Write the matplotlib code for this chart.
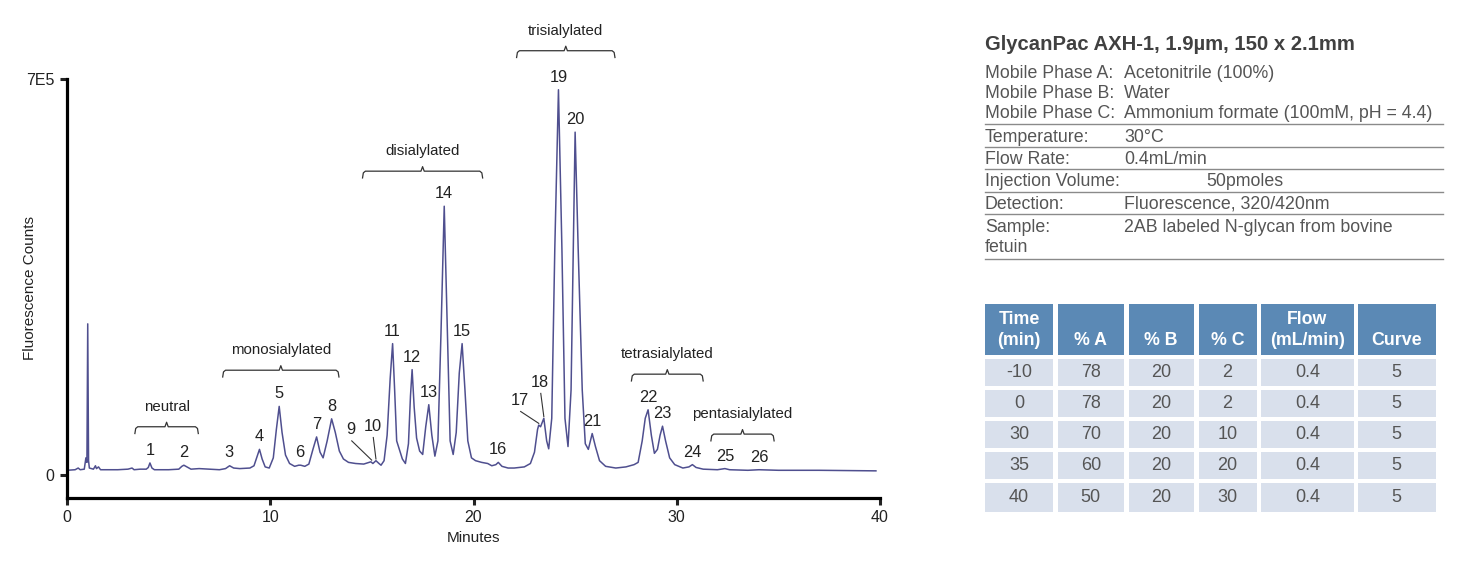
import matplotlib.pyplot as plt
from matplotlib.patches import Rectangle

# ---- chromatogram trace (minutes, counts x 1000) ----
time_min = [0.0, 0.4, 0.55, 0.65, 0.85, 0.93, 0.98, 1.02, 1.06, 1.1, 1.3, 1.4, 1.45, 1.55, 1.65,
            2.0, 2.5, 3.0, 3.2, 3.3, 3.6, 3.9, 4.0, 4.08, 4.18, 4.3, 5.0, 5.5, 5.65, 5.75, 5.9,
            6.1, 6.5, 7.0, 7.5, 7.8, 8.0, 8.2, 8.5, 9.0, 9.2, 9.35, 9.47, 9.6, 9.75, 9.95,
            10.15, 10.3, 10.44, 10.58, 10.75, 10.95, 11.2, 11.4, 11.5, 11.7, 11.9, 12.1, 12.28,
            12.45, 12.6, 12.8, 13.02, 13.2, 13.4, 13.6, 13.85, 14.2, 14.6, 14.95, 15.05, 15.2,
            15.35, 15.45, 15.6, 15.75, 15.9, 16.02, 16.12, 16.22, 16.35, 16.5, 16.65, 16.8, 16.9,
            16.98, 17.08, 17.2, 17.35, 17.5, 17.65, 17.8, 17.95, 18.1, 18.25, 18.4, 18.56, 18.72,
            18.85, 19.0, 19.15, 19.3, 19.44, 19.58, 19.72, 19.9, 20.1, 20.4, 20.7, 20.9, 21.1,
            21.22, 21.4, 21.7, 22.0, 22.5, 22.8, 23.0, 23.15, 23.21, 23.3, 23.46, 23.6, 23.7,
            23.85, 24.0, 24.18, 24.35, 24.5, 24.65, 24.8, 25.0, 25.15, 25.35, 25.5, 25.65, 25.84,
            26.0, 26.2, 26.5, 27.0, 27.5, 27.9, 28.1, 28.3, 28.45, 28.59, 28.75, 28.9, 29.05,
            29.18, 29.3, 29.45, 29.65, 29.9, 30.3, 30.6, 30.77, 30.95, 31.3, 32.0, 32.37, 32.6,
            33.5, 34.05, 35.0, 37.0, 39.8]
signal_k = [8, 9, 12, 9, 10, 30, 22, 267, 25, 12, 10, 16, 11, 14, 9,
            9, 9, 10, 12, 9, 10, 10, 13, 21, 12, 9, 9, 10, 15, 17, 14,
            10, 11, 10, 9, 11, 16, 12, 11, 12, 16, 32, 45, 28, 14, 12,
            30, 80, 121, 75, 35, 20, 15, 17, 17, 15, 19, 45, 67,
            40, 30, 60, 99, 75, 42, 28, 22, 20, 19, 23, 20, 25,
            20, 17, 25, 70, 170, 232, 150, 60, 45, 28, 20, 55, 140,
            186, 120, 65, 42, 36, 85, 124, 70, 33, 60, 250, 475, 250,
            60, 36, 75, 180, 232, 150, 60, 30, 25, 22, 20, 16, 18,
            22, 15, 12, 12, 14, 20, 40, 80, 88, 85, 100, 60, 46,
            100, 400, 681, 400, 100, 50, 150, 606, 400, 150, 55, 45, 73,
            50, 25, 15, 12, 14, 18, 22, 60, 100, 115, 70, 38, 45,
            70, 86, 60, 30, 18, 12, 14, 18, 13, 10, 9, 11, 9,
            8, 9, 8, 8, 7]

# numbered peaks (retention time in minutes, apex in counts x 1000)
peak_numbers = list(range(1, 27))
peak_times = [4.08, 5.74, 7.98, 9.47, 10.44, 11.46, 12.28, 13.02, 14.99, 15.2, 16.02, 16.98, 17.8,
              18.56, 19.44, 21.22, 23.21, 23.46, 24.18, 25.0, 25.84, 28.59, 29.3, 30.77, 32.4, 34.06]
peak_heights = [21, 18, 17, 45, 121, 17, 67, 99, 23, 25, 232, 186, 124,
                475, 232, 22, 88, 100, 681, 606, 73, 115, 86, 18, 11, 9]

# glycan groups (start, end in minutes; bracket level in counts x 1000)
group_names = ["neutral", "monosialylated", "disialylated", "trisialylated",
               "tetrasialylated", "pentasialylated"]
group_start = [3.34, 7.66, 14.54, 22.12, 27.77, 31.68]
group_end = [6.46, 13.38, 20.45, 26.96, 31.3, 34.79]
group_level = [85, 185, 537, 750, 178, 72]

# ---- method panel ----
column_title = "GlycanPac AXH-1, 1.9µm, 150 x 2.1mm"
mobile_phases = [("Mobile Phase A:", "Acetonitrile (100%)"),
                 ("Mobile Phase B:", "Water"),
                 ("Mobile Phase C:", "Ammonium formate (100mM, pH = 4.4)")]
conditions = [("Temperature:", "30°C"),
              ("Flow Rate:", "0.4mL/min"),
              ("Injection Volume:", "50pmoles"),
              ("Detection:", "Fluorescence, 320/420nm"),
              ("Sample:", "2AB labeled N-glycan from bovine\nfetuin")]

table_header = ["Time\n(min)", "% A", "% B", "% C", "Flow\n(mL/min)", "Curve"]
time_steps = ["-10", "0", "30", "35", "40"]
pct_a = [78, 78, 70, 60, 50]
pct_b = [20, 20, 20, 20, 20]
pct_c = [2, 2, 10, 20, 30]
flow = [0.4, 0.4, 0.4, 0.4, 0.4]
curve = [5, 5, 5, 5, 5]

# ================================
W, H = 1465, 565
plt.rcParams['font.family'] = ['Liberation Sans', 'DejaVu Sans']
fig = plt.figure(figsize=(W / 100, H / 100), dpi=100)

def fx(px):
    return px / W

def fy(py):
    return 1 - py / H

ax = fig.add_axes([fx(67), fy(498), fx(880) - fx(67), fy(79) - fy(498)])

trace_color = "#4f4f8f"
ax.plot(time_min, [s * 1000 for s in signal_k], color=trace_color, lw=1.1)

ax.set_xlim(0, 40)
ax.set_ylim(-41000, 700000)
for side in ["top", "right"]:
    ax.spines[side].set_visible(False)
for side in ["left", "bottom"]:
    ax.spines[side].set_linewidth(2.3)
    ax.spines[side].set_capstyle("projecting")
ax.set_xticks([0, 10, 20, 30, 40])
ax.set_yticks([0, 700000])
ax.set_yticklabels(["0", "7E5"])
ax.tick_params(length=5, width=2.2, labelsize=11.5, colors="#222222", pad=4)
ax.set_xlabel("Minutes", fontsize=11, color="#222222", labelpad=4)
ax.set_ylabel("Fluorescence Counts", fontsize=11, color="#222222")
ax.yaxis.set_label_coords(-0.037, 0.5)

chart_fs = 10.8

# peak numbers
label_shift = {9: (-1.02, 57), 10: (-0.17, 61), 17: (-0.93, 44), 18: (-0.19, 64)}
for n, t, h in zip(peak_numbers, peak_times, peak_heights):
    dx, dy = label_shift.get(n, (0, 22))
    lx, ly = t + dx, h + dy
    ax.text(lx, ly * 1000, str(n), ha="center", va="center", fontsize=11.8,
            color="#222222", clip_on=False)
    if n in label_shift:
        ax.plot([lx + 0.04, t], [(ly - 20) * 1000, (h + 3) * 1000], color="#333333",
                lw=0.8, clip_on=False)

# group brackets
for name, x0, x1, lev in zip(group_names, group_start, group_end, group_level):
    xm = (x0 + x1) / 2
    hook = 12
    tip = 8
    bx = [x0, x0 + 0.04, x0 + 0.14, xm - 0.08, xm, xm + 0.08, x1 - 0.14, x1 - 0.04, x1]
    by = [lev - hook, lev - 3, lev, lev, lev + tip, lev, lev, lev - 3, lev - hook]
    ax.plot(bx, [b * 1000 for b in by], color="#333333", lw=0.9, clip_on=False)
    ax.text(xm, (lev + 35) * 1000, name, ha="center", va="center", fontsize=chart_fs,
            color="#222222", clip_on=False)

# ---- right panel text ----
text_grey = "#555555"
rule_grey = "#8a8a8a"
body_fs = 12.8
fig.text(fx(985), fy(45), column_title, fontsize=14.6, fontweight="bold", color="#404040",
         va="center", ha="left")

for i, (lab, val) in enumerate(mobile_phases):
    y = [73, 93, 114][i]
    fig.text(fx(985), fy(y), lab, fontsize=body_fs, color=text_grey, va="center")
    fig.text(fx(1124), fy(y), val, fontsize=body_fs, color=text_grey, va="center")

cond_y = [137, 159.5, 182, 204.5, 228]
rule_y = [123.5, 147, 169, 192, 214, 258.5]
for (lab, val), y in zip(conditions, cond_y):
    fig.text(fx(985), fy(y), lab, fontsize=body_fs, color=text_grey, va="center")
    vx = 1206 if lab.startswith("Injection") else 1124
    lines = val.split("\n")
    fig.text(fx(vx), fy(y), lines[0], fontsize=body_fs, color=text_grey, va="center")
    if len(lines) > 1:
        fig.text(fx(985), fy(y + 20), lines[1], fontsize=body_fs, color=text_grey,
                 va="center")
for y in rule_y:
    fig.add_artist(plt.Line2D([fx(985), fx(1443)], [fy(y), fy(y)], color=rule_grey, lw=1.0))

# ---- gradient table ----
col_x0 = [985, 1057.5, 1128.5, 1198.5, 1261, 1357.5]
col_x1 = [1053, 1124, 1194, 1256.5, 1353.5, 1436]
header_y = (304, 355)
row_y = [(359, 386), (390, 417), (421, 448), (452, 479), (483, 512)]
header_blue = "#5b89b5"
cell_blue = "#d9e0ec"

for c, head in enumerate(table_header):
    x0, x1 = col_x0[c], col_x1[c]
    fig.add_artist(Rectangle((fx(x0), fy(header_y[1])), fx(x1) - fx(x0),
                             fy(header_y[0]) - fy(header_y[1]), color=header_blue, lw=0))
    lines = head.split("\n")
    if len(lines) == 1:
        lines = ["", lines[0]]
    for k, ln in enumerate(lines):
        fig.text(fx((x0 + x1) / 2), fy([320, 340.5][k]), ln, ha="center", va="center",
                 fontsize=12.8, fontweight="bold", color="white")

columns = [time_steps, pct_a, pct_b, pct_c, flow, curve]
for r, (y0, y1) in enumerate(row_y):
    for c, col in enumerate(columns):
        x0, x1 = col_x0[c], col_x1[c]
        fig.add_artist(Rectangle((fx(x0), fy(y1)), fx(x1) - fx(x0), fy(y0) - fy(y1),
                                 color=cell_blue, lw=0))
        fig.text(fx((x0 + x1) / 2), fy((y0 + y1) / 2), str(col[r]), ha="center", va="center",
                 fontsize=13, color=text_grey)

fig.savefig("out.png", dpi=100)
